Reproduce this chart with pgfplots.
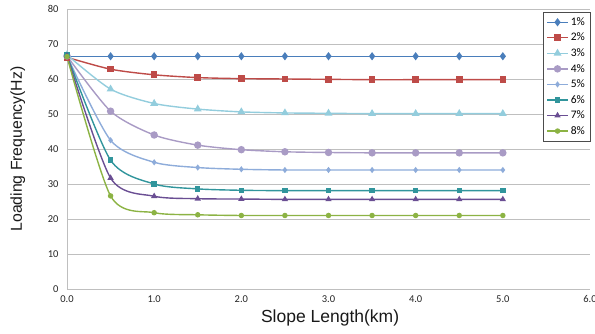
\documentclass[border=0pt]{standalone}
\usepackage{pgfplots}
\pgfplotsset{compat=1.18}
\usepackage{fontspec}
\setmainfont{Carlito}
\newfontfamily\labfont{Liberation Sans}
\definecolor{c1}{HTML}{4A7EBB}
\definecolor{c2}{HTML}{BE4B48}
\definecolor{c3}{HTML}{93CDDD}
\definecolor{c4}{HTML}{A99BC5}
\definecolor{c5}{HTML}{8EACDA}
\definecolor{c6}{HTML}{31959C}
\definecolor{c7}{HTML}{6A4E93}
\definecolor{c8}{HTML}{8CB344}
\definecolor{gridc}{HTML}{BFBFBF}
\begin{document}
\begin{tikzpicture}
\begin{axis}[
  name=ax,
  scale only axis,
  width=523pt, height=280pt,
  xmin=0, xmax=6, ymin=0, ymax=80,
  xtick={0,1,...,6}, ytick={0,10,...,80},
  xticklabel={\pgfmathprintnumber[fixed,fixed zerofill,precision=1]{\tick}},
  /pgf/number format/assume math mode=true,
  tick label style={font=\fontsize{10.5}{11}\selectfont, text=black!85},
  yticklabel style={xshift=-5pt},
  xticklabel style={yshift=-3pt},
  axis x line*=bottom, axis y line*=left,
  axis line style={gridc, line width=0.8pt},
  major tick length=0pt,
  ymajorgrids, grid style={gridc, line width=0.7pt},
  xlabel={\labfont Slope Length(km)},
  ylabel={\labfont Loading Frequency(Hz)},
  every axis x label/.style={at={(axis description cs:0.503,-0.104)}, anchor=center, font=\fontsize{17.5}{19}\selectfont, text=black!90},
  every axis y label/.style={at={(axis description cs:-0.094,0.5)}, anchor=center, rotate=90, font=\fontsize{15.8}{17}\selectfont, text=black!90},
  legend style={at={(1,0.988)}, anchor=north east, draw=black!70, font=\fontsize{11.5}{12}\selectfont, row sep=2.2pt, inner sep=3pt, legend cell align=left, cells={anchor=west}},
  legend image code/.code={\draw[mark repeat=2,mark phase=2] plot coordinates {(0cm,0cm)(0.37cm,0cm)(0.74cm,0cm)};},
  every axis plot/.append style={smooth, tension=0.45, line width=1.4pt},
  clip=false,
]
\addplot[c1, mark=diamond*, mark size=3pt] coordinates {(0,66.5)(0.5,66.5)(1,66.5)(1.5,66.5)(2,66.5)(2.5,66.5)(3,66.5)(3.5,66.5)(4,66.5)(4.5,66.5)(5,66.5)};
\addlegendentry{1\%}
\addplot[c2, mark=square*, mark size=2.6pt] coordinates {(0,66.2)(0.5,62.8)(1,61.2)(1.5,60.4)(2,60.1)(2.5,60.0)(3,59.9)(3.5,59.8)(4,59.8)(4.5,59.8)(5,59.8)};
\addlegendentry{2\%}
\addplot[c3, mark=triangle*, mark size=3.2pt] coordinates {(0,66.9)(0.5,57.1)(1,53.0)(1.5,51.4)(2,50.6)(2.5,50.3)(3,50.2)(3.5,50.1)(4,50.1)(4.5,50.1)(5,50.1)};
\addlegendentry{3\%}
\addplot[c4, mark=*, mark size=3pt] coordinates {(0,66.6)(0.5,50.8)(1,44.0)(1.5,41.1)(2,39.8)(2.5,39.2)(3,39.0)(3.5,38.9)(4,38.9)(4.5,38.9)(5,38.9)};
\addlegendentry{4\%}
\addplot[c5, mark=diamond*, mark size=2pt] coordinates {(0,66.6)(0.5,42.5)(1,36.2)(1.5,34.7)(2,34.2)(2.5,34.0)(3,34.0)(3.5,34.0)(4,34.0)(4.5,34.0)(5,34.0)};
\addlegendentry{5\%}
\addplot[c6, mark=square*, mark size=2pt] coordinates {(0,66.8)(0.5,36.8)(1,30.0)(1.5,28.6)(2,28.2)(2.5,28.1)(3,28.1)(3.5,28.1)(4,28.1)(4.5,28.1)(5,28.1)};
\addlegendentry{6\%}
\addplot[c7, mark=triangle*, mark size=2.3pt] coordinates {(0,66.6)(0.5,31.7)(1,26.5)(1.5,25.8)(2,25.7)(2.5,25.6)(3,25.6)(3.5,25.6)(4,25.6)(4.5,25.6)(5,25.6)};
\addlegendentry{7\%}
\addplot[c8, mark=*, mark size=2pt] coordinates {(0,66.4)(0.5,26.6)(1,21.8)(1.5,21.2)(2,21.0)(2.5,21.0)(3,21.0)(3.5,21.0)(4,21.0)(4.5,21.0)(5,21.0)};
\addlegendentry{8\%}
\end{axis}
\pgfresetboundingbox
\path[use as bounding box] ([xshift=-67pt,yshift=-45pt]ax.south west) rectangle ([xshift=5pt,yshift=9pt]ax.north east);
\end{tikzpicture}
\end{document}
